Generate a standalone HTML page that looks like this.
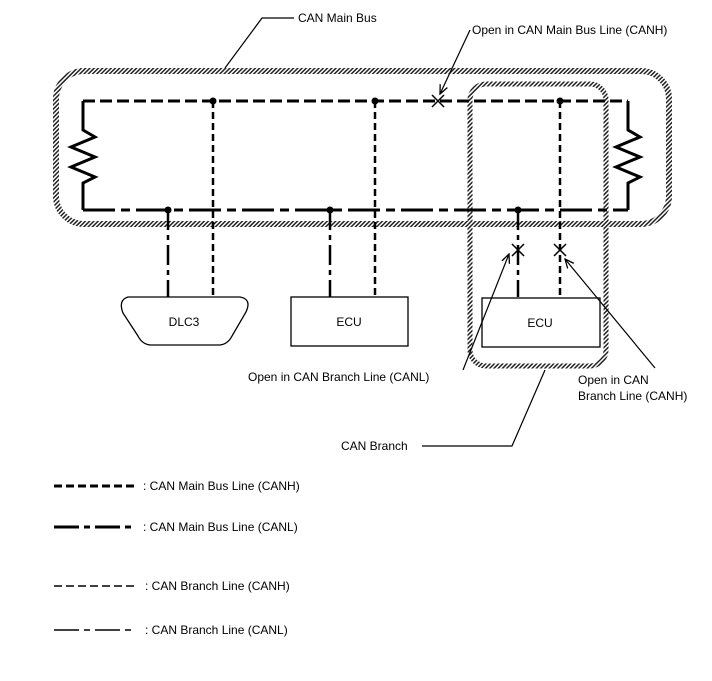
<!DOCTYPE html>
<html><head><meta charset="utf-8"><style>
html,body{margin:0;padding:0;background:#fff;}
svg{display:block;}
text{font-family:"Liberation Sans",Arial,sans-serif;font-size:12px;fill:#000;}
</style></head><body>
<svg width="712" height="681" viewBox="0 0 712 681" xmlns="http://www.w3.org/2000/svg">
<defs>
<pattern id="h" width="3" height="3" patternUnits="userSpaceOnUse" patternTransform="rotate(45)">
<rect width="3" height="3" fill="#fff"/><rect width="1.5" height="3" fill="#222"/>
</pattern>
<marker id="a" markerWidth="10" markerHeight="10" refX="9" refY="5" orient="auto" markerUnits="userSpaceOnUse">
<path d="M0,1 L9,5 L0,9" fill="none" stroke="#000" stroke-width="1.3"/>
</marker>
</defs>
<rect x="56" y="71" width="613" height="153" rx="28" fill="none" stroke="url(#h)" stroke-width="6"/>
<rect x="470" y="84" width="136" height="282" rx="16" fill="none" stroke="url(#h)" stroke-width="5"/>

<path d="M83,101 H628" stroke="#000" stroke-width="3" stroke-dasharray="12,5" fill="none"/>
<path d="M83,210 H628" stroke="#000" stroke-width="3" stroke-dasharray="32,6,9,6" fill="none"/>
<path d="M83,101 V130 L95,137 L71,147 L95,157 L71,167 L95,177 L83,183 V210" stroke="#000" stroke-width="3" fill="none"/>
<path d="M628,101 V130 L640,137 L616,147 L640,157 L616,167 L640,177 L628,183 V210" stroke="#000" stroke-width="3" fill="none"/>

<g stroke="#000" stroke-width="2.5" stroke-dasharray="7,4" fill="none">
<path d="M213,101 V297"/><path d="M375,101 V297"/><path d="M560,101 V297"/>
</g>
<g stroke="#000" stroke-width="2.5" stroke-dasharray="20,5,5,5" fill="none">
<path d="M168,210 V297"/><path d="M330,210 V297"/><path d="M518,210 V297"/>
</g>
<g fill="#000"><circle cx="213" cy="101" r="3.5"/><circle cx="375" cy="101" r="3.5"/><circle cx="560" cy="101" r="3.5"/>
<circle cx="168" cy="210" r="3.5"/><circle cx="330" cy="210" r="3.5"/><circle cx="518" cy="210" r="3.5"/></g>
<g stroke="#000" stroke-width="1.5">
<path d="M432,95 L444,107 M444,95 L432,107"/>
<path d="M512,244 L524,256 M524,244 L512,256"/>
<path d="M554,244 L566,256 M566,244 L554,256"/>
</g>

<path d="M128,297 H240 Q252,299 246,312 L232,336 Q228,344 220,345 H150 Q142,344 138,336 L123,313 Q118,300 128,297 Z" fill="#fff" stroke="#000" stroke-width="1.3"/>
<text x="184" y="326" text-anchor="middle">DLC3</text>
<rect x="291" y="297" width="117" height="49" fill="#fff" stroke="#000" stroke-width="1.3"/>
<text x="349" y="326" text-anchor="middle">ECU</text>
<rect x="482" y="298" width="118" height="49" fill="#fff" stroke="#000" stroke-width="1.3"/>
<text x="540" y="327" text-anchor="middle">ECU</text>

<g stroke="#000" stroke-width="1.2" fill="none">
<path d="M294,18 H262 L225,68"/>
<path d="M470,30 L440,94" marker-end="url(#a)"/>
<path d="M463,370 L509,254" marker-end="url(#a)"/>
<path d="M655,368 L565,259" marker-end="url(#a)"/>
<path d="M422,446 H512 L545,370"/>
</g>
<text x="298" y="22">CAN Main Bus</text>
<text x="472" y="34">Open in CAN Main Bus Line (CANH)</text>
<text x="248" y="381">Open in CAN Branch Line (CANL)</text>
<text x="578" y="384">Open in CAN</text>
<text x="578" y="400">Branch Line (CANH)</text>
<text x="341" y="450">CAN Branch</text>

<path d="M54,486 H135" stroke="#000" stroke-width="3" stroke-dasharray="8,4"/>
<path d="M54,527 H135" stroke="#000" stroke-width="3" stroke-dasharray="25,5,6,5"/>
<path d="M54,586 H135" stroke="#000" stroke-width="1.5" stroke-dasharray="8,4"/>
<path d="M54,630 H135" stroke="#000" stroke-width="1.5" stroke-dasharray="25,5,6,5"/>
<text x="143" y="490">: CAN Main Bus Line (CANH)</text>
<text x="143" y="531">: CAN Main Bus Line (CANL)</text>
<text x="145" y="590">: CAN Branch Line (CANH)</text>
<text x="145" y="634">: CAN Branch Line (CANL)</text>
</svg>
</body></html>
